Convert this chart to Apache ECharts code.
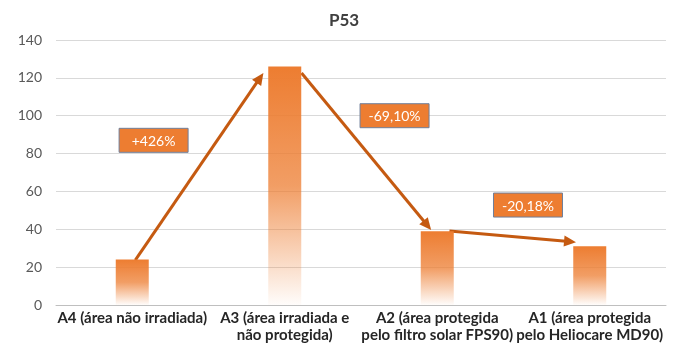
<!DOCTYPE html>
<html>
<head>
<meta charset="utf-8">
<script src="https://cdn.jsdelivr.net/npm/echarts@6/dist/echarts.min.js"></script>
<style>
  html, body { margin: 0; padding: 0; background: #fff; }
  #chart { width: 688px; height: 344px; }
</style>
</head>
<body>
<div id="chart"></div>
<script>
const categories = [
  'A4 (área não irradiada)',
  'A3 (área irradiada e\nnão protegida)',
  'A2 (área protegida\npelo filtro solar FPS90)',
  'A1 (área protegida\npelo Heliocare MD90)'
]
const values = [24, 126, 38.9, 31.05]

// arrows between bars: [[from pos, from value], [to pos, to value]], pos 0 = centre of first bar
const arrows = [
  [[0.02, 23.7], [0.86, 122.6]],
  [[1.11, 122.6], [1.96, 39.6]],
  [[2.08, 39.1], [2.91, 33.2]]
]
const changeLabels = ['+426%', '-69,10%', '-20,18%']
const labelPos = [[0.14, 87], [1.72, 100], [2.595, 52.8]]

const chart = echarts.init(document.getElementById('chart'))

// category axis rounds fractional positions, so step from the first band
function toPixel(api, p) {
  const base = api.coord([0, p[1]])
  const step = api.size([1, 0])[0]
  return [base[0] + p[0] * step, base[1]]
}

function renderArrow(params, api) {
  const a = arrows[params.dataIndex]
  const p0 = toPixel(api, a[0])
  const p1 = toPixel(api, a[1])
  const dx = p1[0] - p0[0], dy = p1[1] - p0[1]
  const len = Math.sqrt(dx * dx + dy * dy)
  const ux = dx / len, uy = dy / len
  const hl = 12, hw = 5.5
  const bx = p1[0] - ux * hl, by = p1[1] - uy * hl
  return {
    type: 'group',
    children: [
      {
        type: 'line',
        shape: { x1: p0[0], y1: p0[1], x2: bx + ux * 2, y2: by + uy * 2 },
        style: { stroke: '#C55A11', lineWidth: 3 }
      },
      {
        type: 'polygon',
        shape: { points: [[p1[0], p1[1]], [bx - uy * hw, by + ux * hw], [bx + uy * hw, by - ux * hw]] },
        style: { fill: '#C55A11' }
      }
    ]
  }
}

function renderBox(params, api) {
  const c = toPixel(api, labelPos[params.dataIndex])
  const w = 69, h = 24
  return {
    type: 'group',
    children: [
      {
        type: 'rect',
        shape: { x: c[0] - w / 2, y: c[1] - h / 2, width: w, height: h },
        style: { fill: '#ED7D31', stroke: '#6F7F9A', lineWidth: 1 }
      },
      {
        type: 'text',
        style: {
          text: changeLabels[params.dataIndex],
          x: c[0], y: c[1] + 1,
          align: 'center', verticalAlign: 'middle',
          fill: '#fff', font: '14px Lato'
        }
      }
    ]
  }
}

const option = {
  backgroundColor: '#fff',
  animation: false,
  textStyle: { fontFamily: 'Lato' },
  title: {
    text: 'P53',
    left: 'center', top: 7,
    textStyle: { fontSize: 17, fontWeight: 'bold', color: '#404040', fontFamily: 'Lato' }
  },
  grid: { left: 56, right: 22, top: 40, bottom: 37, show: false, borderWidth: 0 },
  xAxis: {
    type: 'category',
    data: categories,
    axisTick: { show: false },
    splitLine: { show: false },
    splitArea: { show: false },
    axisLine: { lineStyle: { color: '#BFBFBF' } },
    axisLabel: {
      interval: 0, margin: 5, fontSize: 15, fontWeight: 'bold',
      color: '#262626', lineHeight: 17
    }
  },
  yAxis: {
    type: 'value',
    min: 0, max: 140, interval: 20,
    axisLine: { show: false },
    axisTick: { show: false },
    splitArea: { show: false },
    axisLabel: { fontSize: 14, color: '#595959', margin: 14 },
    splitLine: { lineStyle: { color: '#D9D9D9', width: 1 } }
  },
  series: [
    {
      type: 'bar',
      data: values,
      barWidth: 33,
      itemStyle: {
        color: new echarts.graphic.LinearGradient(0, 0, 0, 1, [
          { offset: 0, color: 'rgba(237,125,49,1)' },
          { offset: 0.5, color: 'rgba(237,125,49,0.75)' },
          { offset: 1, color: 'rgba(237,125,49,0.02)' }
        ])
      }
    },
    {
      type: 'custom',
      renderItem: renderArrow,
      clip: false,
      data: arrows.map((a, i) => [i, a[1][1]])
    },
    {
      type: 'custom',
      renderItem: renderBox,
      clip: false,
      data: labelPos.map((p, i) => [i, p[1]])
    }
  ]
}
chart.setOption(option)
</script>
</body>
</html>
